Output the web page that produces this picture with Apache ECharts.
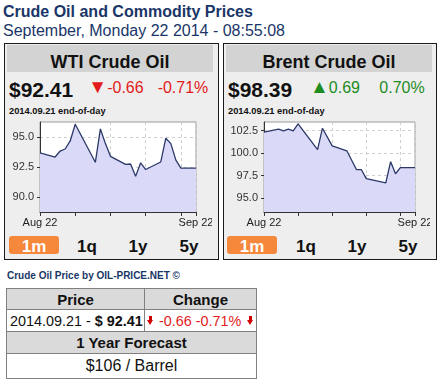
<!DOCTYPE html>
<html>
<head>
<meta charset="utf-8">
<script src="https://cdn.jsdelivr.net/npm/echarts@6/dist/echarts.min.js"></script>
<style>
  html, body { margin:0; padding:0; background:#fff; }
  body { width:444px; height:382px; position:relative; overflow:hidden; font-family:'Liberation Sans', Arial, sans-serif; }
  .t { position:absolute; line-height:1; white-space:nowrap; }
  .tri { font-size:19px; line-height:0; }
  .card { position:absolute; box-sizing:border-box; border:1px solid #1a1a1a; background:#eeeeee; }
  .hdr { position:absolute; background:#d3d3d3; }
  .btn { position:absolute; background:#f5883b; border-radius:3px; }
  .cell { position:absolute; box-sizing:border-box; border:1px solid #808080; display:flex; align-items:center; white-space:nowrap; }
  .arr { display:inline-block; position:relative; width:7px; height:9px; vertical-align:middle; }
  .arr:before { content:''; position:absolute; left:2px; top:0; width:3px; height:4px; background:#d10000; }
  .arr:after { content:''; position:absolute; left:0; top:4px; width:0; height:0; border-left:3.5px solid transparent; border-right:3.5px solid transparent; border-top:5px solid #d10000; }
</style>
</head>
<body>
<div class="t" style="left:3px;top:4px;font-size:16px;font-weight:bold;color:#1a3668;">Crude Oil and Commodity Prices</div>
<div class="t" style="left:3px;top:23px;font-size:16px;color:#1a3668;">September, Monday 22 2014 - 08:55:08</div>

<!-- WTI card -->
<div class="card" style="left:4px;top:43px;width:215px;height:217px;"></div>
<div class="hdr" style="left:7px;top:45px;width:206px;height:27px;"></div>
<div class="t" style="left:7px;width:206px;text-align:center;top:53px;font-size:18px;font-weight:bold;color:#111;">WTI Crude Oil</div>
<div class="t" style="left:9px;top:78.5px;font-size:21px;font-weight:bold;color:#111;">$92.41</div>
<div class="t" style="left:66px;width:100px;text-align:center;top:80px;font-size:16px;color:#e31b1b;"><span class="tri">▼</span>-0.66</div>
<div class="t" style="left:133px;width:100px;text-align:center;top:80px;font-size:16px;color:#e31b1b;">-0.71%</div>
<div class="t" style="left:9px;top:107px;font-size:9.3px;font-weight:bold;color:#111;">2014.09.21 end-of-day</div>
<div id="wti" style="position:absolute;left:7px;top:114px;width:205px;height:120px;"></div>
<div class="btn" style="left:9px;top:236px;width:50px;height:18px;"></div>
<div class="t" style="left:9px;width:50px;text-align:center;top:237.5px;font-size:17px;font-weight:bold;color:#fff;">1m</div>
<div class="t" style="left:62px;width:50px;text-align:center;top:237.5px;font-size:17px;font-weight:bold;color:#111;">1q</div>
<div class="t" style="left:113px;width:50px;text-align:center;top:237.5px;font-size:17px;font-weight:bold;color:#111;">1y</div>
<div class="t" style="left:164px;width:50px;text-align:center;top:237.5px;font-size:17px;font-weight:bold;color:#111;">5y</div>

<!-- Brent card -->
<div class="card" style="left:223px;top:43px;width:214px;height:217px;"></div>
<div class="hdr" style="left:226px;top:45px;width:206px;height:27px;"></div>
<div class="t" style="left:226px;width:206px;text-align:center;top:53px;font-size:18px;font-weight:bold;color:#111;">Brent Crude Oil</div>
<div class="t" style="left:228px;top:78.5px;font-size:21px;font-weight:bold;color:#111;">$98.39</div>
<div class="t" style="left:285px;width:100px;text-align:center;top:80px;font-size:16px;color:#1e8c1e;"><span class="tri">▲</span>0.69</div>
<div class="t" style="left:352px;width:100px;text-align:center;top:80px;font-size:16px;color:#1e8c1e;">0.70%</div>
<div class="t" style="left:228px;top:107px;font-size:9.3px;font-weight:bold;color:#111;">2014.09.21 end-of-day</div>
<div id="brent" style="position:absolute;left:226px;top:114px;width:204px;height:120px;"></div>
<div class="btn" style="left:227px;top:236px;width:50px;height:18px;"></div>
<div class="t" style="left:227px;width:50px;text-align:center;top:237.5px;font-size:17px;font-weight:bold;color:#fff;">1m</div>
<div class="t" style="left:281px;width:50px;text-align:center;top:237.5px;font-size:17px;font-weight:bold;color:#111;">1q</div>
<div class="t" style="left:332px;width:50px;text-align:center;top:237.5px;font-size:17px;font-weight:bold;color:#111;">1y</div>
<div class="t" style="left:383px;width:50px;text-align:center;top:237.5px;font-size:17px;font-weight:bold;color:#111;">5y</div>

<!-- footer -->
<div class="t" style="left:7px;top:271px;font-size:10px;font-weight:bold;color:#1a3668;">Crude Oil Price by OIL-PRICE.NET ©</div>
<div class="cell" style="left:6px;top:288px;width:139px;height:22px;background:#dadada;justify-content:center;font-size:15px;font-weight:bold;color:#111;">Price</div>
<div class="cell" style="left:144px;top:288px;width:113px;height:22px;background:#dadada;justify-content:center;font-size:15px;font-weight:bold;color:#111;">Change</div>
<div class="cell" style="left:6px;top:309px;width:139px;height:23px;background:#fff;padding-left:3px;font-size:14.4px;color:#111;">2014.09.21 -&nbsp;<b>$ 92.41</b></div>
<div class="cell" style="left:144px;top:309px;width:113px;height:23px;background:#fff;padding-left:2px;font-size:14.4px;color:#e31b1b;"><span class="arr"></span><span style="margin:0 6px 0 5px;">-0.66 -0.71%</span><span class="arr"></span></div>
<div class="cell" style="left:6px;top:331px;width:251px;height:23px;background:#dadada;justify-content:center;font-size:15px;font-weight:bold;color:#111;">1 Year Forecast</div>
<div class="cell" style="left:6px;top:353px;width:251px;height:26px;background:#fff;justify-content:center;font-size:16px;color:#111;">$106 / Barrel</div>

<script>
// ---- data ----
const xStart = '2014-08-22';
const xTickDates = ['2014-08-22', '2014-08-29', '2014-09-05', '2014-09-12', '2014-09-19', '2014-09-22'];
const xLabelDates = ['2014-08-22', '2014-09-22'];
const xLabelTexts = ['Aug 22', 'Sep 22'];

const wtiDates = ['2014-08-22','2014-08-25','2014-08-26','2014-08-27','2014-08-28','2014-08-29',
  '2014-09-02','2014-09-03','2014-09-04','2014-09-05','2014-09-08','2014-09-09','2014-09-10',
  '2014-09-11','2014-09-12','2014-09-15','2014-09-16','2014-09-17','2014-09-18','2014-09-19','2014-09-22'];
const wtiValues = [93.67, 93.33, 93.83, 94.0, 94.67, 96.06,
  92.89, 95.67, 94.45, 93.39, 92.72, 92.75, 91.72,
  92.85, 92.29, 92.92, 94.9, 94.45, 93.07, 92.41, 92.41];
const wtiYTicks = [90, 92.5, 95];
const wtiYRange = [88.75, 96.25];

const brentDates = ['2014-08-22','2014-08-25','2014-08-26','2014-08-27','2014-08-28','2014-08-29',
  '2014-09-02','2014-09-03','2014-09-05','2014-09-08','2014-09-10','2014-09-11','2014-09-12',
  '2014-09-16','2014-09-17','2014-09-18','2014-09-19','2014-09-22'];
const brentValues = [102.32, 102.65, 102.47, 102.65, 102.47, 103.24,
  100.37, 102.76, 100.8, 100.25, 98.15, 98.15, 97.16,
  96.68, 99.04, 97.70, 98.39, 98.39];
const brentYTicks = [95, 97.5, 100, 102.5];
const brentYRange = [93.45, 103.45];

// ---- helpers ----
const DAY = 86400000;
function dayIndex(s) { return Math.round((Date.parse(s + 'T00:00:00Z') - Date.parse(xStart + 'T00:00:00Z')) / DAY); }
const xTickDays = xTickDates.map(dayIndex);
const xLabelDays = xLabelDates.map(dayIndex);

function makeOption(dates, values, yRange, yTicks, gridLeft, gridRight) {
  const data = dates.map((d, i) => [dayIndex(d), values[i]]);
  const font = 'Liberation Sans';
  return {
    animation: false,
    grid: { left: gridLeft, right: gridRight, top: 8, bottom: 22, show: true,
            containLabel: false, outerBoundsMode: 'none',
            backgroundColor: '#fff', borderColor: '#9a9a9a', borderWidth: 1 },
    xAxis: {
      type: 'value', min: xTickDays[0], max: xTickDays[xTickDays.length - 1],
      axisLine: { show: true, lineStyle: { color: '#333', width: 1 } },
      axisTick: { show: true, length: 4, lineStyle: { color: '#333' }, customValues: xTickDays },
      axisLabel: { customValues: xLabelDays, margin: 5, fontSize: 11, fontFamily: font, color: '#222',
                   hideOverlap: false,
                   formatter: v => { const k = xLabelDays.indexOf(Math.round(v)); return k >= 0 ? xLabelTexts[k] : ''; } },
      splitLine: { show: true, lineStyle: { color: '#cfcfcf', type: [3, 3], width: 1 } }
    },
    yAxis: {
      type: 'value', min: yRange[0], max: yRange[1],
      axisLine: { show: true, lineStyle: { color: '#333', width: 1 } },
      axisTick: { show: true, length: 3, lineStyle: { color: '#333' }, customValues: yTicks },
      axisLabel: { customValues: yTicks, margin: 6, fontSize: 11, fontFamily: font, color: '#333',
                   formatter: v => Number(v).toFixed(1) },
      splitLine: { show: true, lineStyle: { color: '#cfcfcf', type: [3, 3], width: 1 } }
    },
    series: [{
      type: 'line', data: data, symbol: 'none', smooth: false,
      lineStyle: { color: '#2b3868', width: 1.3 },
      areaStyle: { color: '#dadaf8', opacity: 1, origin: 'start' }
    }]
  };
}

echarts.init(document.getElementById('wti')).setOption(makeOption(wtiDates, wtiValues, wtiYRange, wtiYTicks, 33, 16));
echarts.init(document.getElementById('brent')).setOption(makeOption(brentDates, brentValues, brentYRange, brentYTicks, 38, 15));
</script>
</body>
</html>
